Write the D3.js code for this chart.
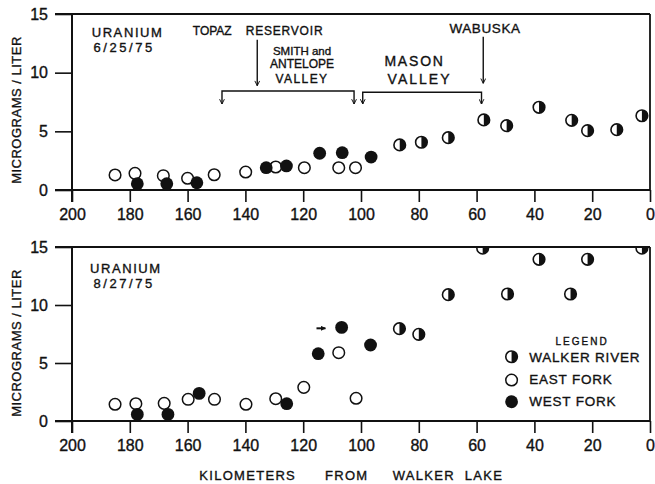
<!DOCTYPE html>
<html>
<head>
<meta charset="utf-8">
<script src="https://cdn.jsdelivr.net/npm/d3@7"></script>
<style>
  html, body { margin: 0; padding: 0; background: #fff; }
  svg { display: block; }
  text { font-family: "Liberation Sans", Arial, sans-serif; fill: #111; stroke: #111; stroke-width: 0.35px; }
</style>
</head>
<body>
<script>
// ---------------- DATA ----------------
const xTicks = [200, 180, 160, 140, 120, 100, 80, 60, 40, 20, 0];
const yTicks = [0, 5, 10, 15];

// Top panel: Uranium 6/25/75
const junEastKm   = [185.1, 178.2, 168.4, 160.0, 150.8, 139.9, 129.5, 119.6, 107.7, 101.9];
const junEastVal  = [1.28, 1.42, 1.22, 1.00, 1.30, 1.53, 1.96, 1.90, 1.90, 1.90];
const junWestKm   = [177.4, 167.2, 156.8, 132.8, 125.8, 114.3, 106.5, 96.5];
const junWestVal  = [0.54, 0.54, 0.62, 1.90, 2.05, 3.13, 3.18, 2.81];
const junWalkerKm = [86.6, 79.1, 69.8, 57.5, 49.6, 38.4, 27.1, 21.6, 11.5, 2.8];
const junWalkerVal= [3.84, 4.07, 4.46, 5.97, 5.48, 7.05, 5.94, 5.06, 5.14, 6.33];

// Bottom panel: Uranium 8/27/75
const augEastKm   = [185.1, 177.9, 168.1, 159.8, 150.7, 139.8, 129.5, 119.8, 107.7, 101.7];
const augEastVal  = [1.44, 1.49, 1.52, 1.87, 1.87, 1.44, 1.92, 2.90, 5.89, 1.96];
const augWestKm   = [177.4, 166.8, 156.0, 125.7, 114.8, 106.7, 96.7];
const augWestVal  = [0.57, 0.57, 2.38, 1.49, 5.80, 8.07, 6.55];
const augWalkerKm = [86.7, 80.0, 69.8, 57.9, 49.3, 38.4, 27.5, 21.6, 2.8];
const augWalkerVal= [7.96, 7.47, 10.89, 14.9, 10.95, 13.94, 10.95, 13.94, 14.9];

const seriesNames = ["WALKER RIVER", "EAST FORK", "WEST FORK"];

// ---------------- LAYOUT ----------------
const W = 655, H = 484;
const R = 5.8;
const svg = d3.select("body").append("svg").attr("width", W).attr("height", H);
svg.append("rect").attr("width", W).attr("height", H).attr("fill", "#fff");

const x = d3.scaleLinear().domain([200, 0]).range([72, 650]);
const yTop = d3.scaleLinear().domain([0, 15]).range([190, 14]);
const yBot = d3.scaleLinear().domain([0, 15]).range([421, 247]);

const defs = svg.append("defs");
defs.append("marker").attr("id", "ah").attr("viewBox", "0 0 10 10")
  .attr("refX", 9).attr("refY", 5).attr("markerWidth", 6).attr("markerHeight", 6)
  .attr("orient", "auto-start-reverse").attr("markerUnits", "userSpaceOnUse")
  .append("path").attr("d", "M1,1 L9,5 L1,9").attr("fill", "none").attr("stroke", "#111").attr("stroke-width", 1.6);
defs.append("marker").attr("id", "ahf").attr("viewBox", "0 0 10 10")
  .attr("refX", 9).attr("refY", 5).attr("markerWidth", 5).attr("markerHeight", 5)
  .attr("orient", "auto").attr("markerUnits", "userSpaceOnUse")
  .append("path").attr("d", "M0,0 L10,5 L0,10 Z").attr("fill", "#111");

function zip(k, v) { return k.map((d, i) => ({ km: d, v: v[i] })); }

function drawSymbol(g, kind) {
  if (kind === "east") {
    g.append("circle").attr("r", R).attr("fill", "#fff").attr("stroke", "#111").attr("stroke-width", 1.5);
  } else if (kind === "west") {
    g.append("circle").attr("r", R + 0.6).attr("fill", "#111");
  } else {
    g.append("circle").attr("r", R).attr("fill", "#fff").attr("stroke", "#111").attr("stroke-width", 1.6);
    g.append("path").attr("d", `M0,${-R} A${R},${R} 0 0 1 0,${R} Z`).attr("fill", "#111");
  }
}

function panel(y, east, west, walker, id) {
  const [y0, y1] = y.range();
  const g = svg.append("g");
  const ax = g.append("g").attr("transform", `translate(0,${y0})`)
    .call(d3.axisBottom(x).tickValues(xTicks).tickSize(12).tickSizeOuter(0).tickPadding(7).tickFormat(d3.format("d")));
  ax.select(".domain").remove();
  ax.selectAll("line").attr("stroke", "#111").attr("stroke-width", 1.6);
  ax.selectAll("text").attr("font-size", 16).attr("font-family", "Liberation Sans, Arial, sans-serif").attr("fill", "#111");
  const ay = g.append("g").attr("transform", `translate(${x(200)},0)`)
    .call(d3.axisLeft(y).tickValues(yTicks).tickSize(17).tickSizeOuter(0).tickPadding(7).tickFormat(d3.format("d")));
  ay.select(".domain").remove();
  ay.selectAll("line").attr("stroke", "#111").attr("stroke-width", 1.6);
  ay.selectAll("text").attr("font-size", 16).attr("font-family", "Liberation Sans, Arial, sans-serif").attr("fill", "#111");
  // frame
  g.append("line").attr("x1", x(200)).attr("x2", x(200)).attr("y1", y1).attr("y2", y0 + 12).attr("stroke", "#111").attr("stroke-width", 2);
  g.append("line").attr("x1", x(200) - 17).attr("x2", x(0)).attr("y1", y0).attr("y2", y0).attr("stroke", "#111").attr("stroke-width", 2);
  g.append("line").attr("x1", x(200) - 17).attr("x2", x(0)).attr("y1", y1).attr("y2", y1).attr("stroke", "#111").attr("stroke-width", 1.8);
  g.append("line").attr("x1", x(0)).attr("x2", x(0)).attr("y1", y1).attr("y2", y0).attr("stroke", "#111").attr("stroke-width", 1.8);
  defs.append("clipPath").attr("id", "clip" + id).append("rect")
    .attr("x", x(200)).attr("y", y1 + 1).attr("width", x(0) - x(200)).attr("height", y0 - y1);
  const pts = g.append("g").attr("clip-path", `url(#clip${id})`);
  [["east", east], ["west", west], ["walker", walker]].forEach(([kind, data]) => {
    data.forEach(d => {
      const s = pts.append("g").attr("transform", `translate(${x(d.km)},${y(d.v)})`);
      drawSymbol(s, kind);
    });
  });
  return g;
}

const gTop = panel(yTop, zip(junEastKm, junEastVal), zip(junWestKm, junWestVal), zip(junWalkerKm, junWalkerVal), "t");
const gBot = panel(yBot, zip(augEastKm, augEastVal), zip(augWestKm, augWestVal), zip(augWalkerKm, augWalkerVal), "b");

function label(g, y, km, v, txt, size, ls, anchor) {
  g.append("text").attr("x", x(km)).attr("y", y(v)).attr("font-size", size)
    .attr("letter-spacing", ls).attr("text-anchor", anchor || "start").text(txt);
}
function arrow(g, y, km1, v1, km2, v2, filled) {
  g.append("line").attr("x1", x(km1)).attr("y1", y(v1)).attr("x2", x(km2)).attr("y2", y(v2))
    .attr("stroke", "#111").attr("stroke-width", filled ? 2 : 1.4)
    .attr("marker-end", filled ? "url(#ahf)" : "url(#ah)");
}
function bracket(g, y, kmA, kmB, vLine, vEnd) {
  g.append("path").attr("d", `M${x(kmA)},${y(vEnd)} L${x(kmA)},${y(vLine)} L${x(kmB)},${y(vLine)} L${x(kmB)},${y(vEnd)}`)
    .attr("fill", "none").attr("stroke", "#111").attr("stroke-width", 1.4)
    .attr("marker-start", "url(#ah)").attr("marker-end", "url(#ah)");
}

// Top annotations
label(gTop, yTop, 193.2, 13.01, "URANIUM", 13, 1.6);
label(gTop, yTop, 192.6, 11.74, "6/25/75", 13, 2.6);
label(gTop, yTop, 158.2, 13.21, "TOPAZ", 12, 0);
label(gTop, yTop, 139.9, 13.21, "RESERVOIR", 12, 0.8);
label(gTop, yTop, 120.4, 11.51, "SMITH and", 11.5, 0, "middle");
label(gTop, yTop, 120.4, 10.40, "ANTELOPE", 12, 0, "middle");
label(gTop, yTop, 120.4, 9.12, "VALLEY", 12, 1.4, "middle");
label(gTop, yTop, 91.9, 10.60, "MASON", 14, 1.8);
label(gTop, yTop, 90.8, 9.0, "VALLEY", 14, 2.0);
label(gTop, yTop, 69.4, 13.36, "WABUSKA", 13.5, 0.6);
arrow(gTop, yTop, 135.9, 12.8, 135.9, 8.89);
arrow(gTop, yTop, 57.7, 13.07, 57.7, 9.09);
bracket(gTop, yTop, 148.1, 102.4, 8.44, 7.33);
bracket(gTop, yTop, 99.4, 58.3, 8.33, 7.33);

// Bottom annotations
label(gBot, yBot, 193.8, 12.79, "URANIUM", 13, 1.6);
label(gBot, yBot, 192.6, 11.49, "8/27/75", 13, 2.6);
arrow(gBot, yBot, 115.4, 7.99, 112.3, 7.99, true);

// Legend
label(gBot, yBot, 23.5, 6.55, "LEGEND", 10, 2, "middle");
const legVals = [5.54, 3.53, 1.66];
const legText = [5.06, 3.16, 1.29];
["walker", "east", "west"].forEach((k, i) => {
  const s = gBot.append("g").attr("transform", `translate(${x(47.9)},${yBot(legVals[i])})`);
  drawSymbol(s, k);
  label(gBot, yBot, 41.8, legText[i], seriesNames[i], 13.5, 0.8);
});

// Axis titles
svg.append("text").attr("x", 199.3).attr("y", 480).attr("font-size", 13).attr("letter-spacing", 1.3).text("KILOMETERS");
svg.append("text").attr("x", 325).attr("y", 480).attr("font-size", 13).attr("letter-spacing", 1.3).text("FROM");
svg.append("text").attr("x", 392.7).attr("y", 480).attr("font-size", 13).attr("letter-spacing", 1.3).text("WALKER  LAKE").attr("style", "white-space:pre");
[110, 343].forEach(cy => {
  svg.append("text").attr("transform", `translate(20.7,${cy}) rotate(-90)`)
    .attr("text-anchor", "middle").attr("font-size", 13).attr("letter-spacing", 0.5)
    .text("MICROGRAMS / LITER");
});
</script>
</body>
</html>
